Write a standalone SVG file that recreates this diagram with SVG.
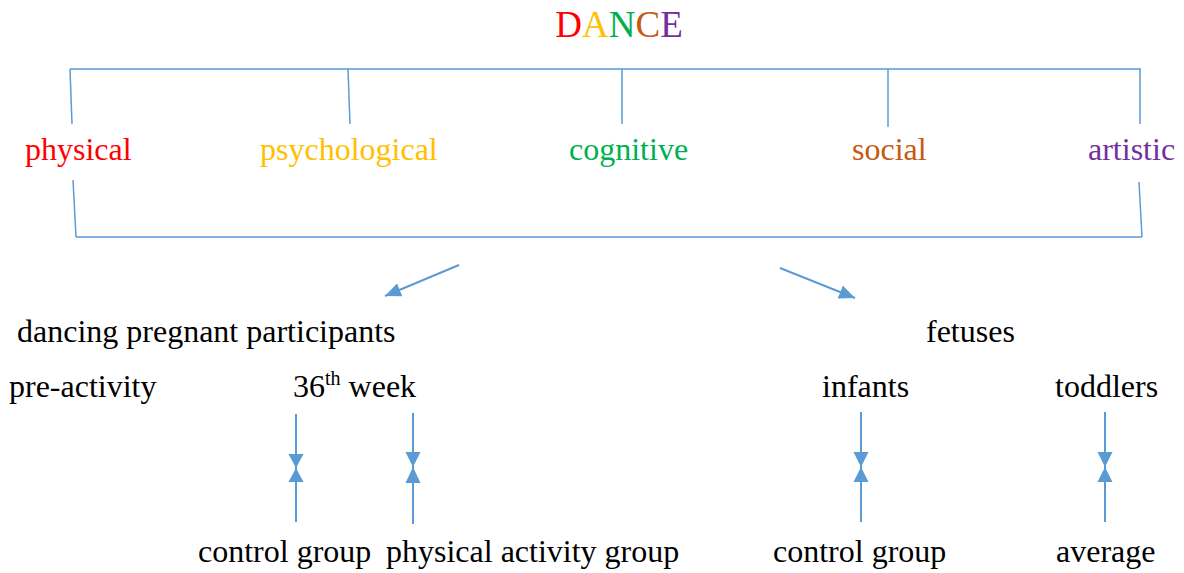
<svg xmlns="http://www.w3.org/2000/svg" width="1184" height="573" viewBox="0 0 1184 573">
<style>
text{font-family:"Liberation Serif","Times New Roman",serif;font-size:32px;fill:#000}
.br{stroke:#5B9BD5;stroke-width:1.5;fill:none}
.ar{stroke:#5B9BD5;stroke-width:2;fill:none}
.tri{fill:#5B9BD5}
</style>
<defs>
<marker id="ah" viewBox="0 0 10 10" refX="10" refY="5" markerWidth="8" markerHeight="7" orient="auto" markerUnits="strokeWidth" preserveAspectRatio="none"><path d="M0,0 L10,5 L0,10 z" class="tri"/></marker>
</defs>
<rect width="1184" height="573" fill="#fff"/>
<g id="title"><text x="619" y="37" text-anchor="middle" style="font-size:37px"><tspan fill="#FF0000">D</tspan><tspan fill="#FFC000">A</tspan><tspan fill="#00B050">N</tspan><tspan fill="#C55A11">C</tspan><tspan fill="#7030A0">E</tspan></text></g>
<g id="connectors">
<path class="br" d="M70,69 H1141 M70,69 L72,124 M348,69 L350,124 M622,69 V124 M888,69 V127 M1140,69 V124"/>
<path class="br" d="M76,237 H1142 M73,180 L76,237 M1139,182 L1142,237"/>
<path class="ar" d="M459,265 L385,296" marker-end="url(#ah)"/>
<path class="ar" d="M780,268 L855,298" marker-end="url(#ah)"/>
<g id="pair1"><path class="ar" d="M296,414 V522"/><path class="tri" d="M288.5,454 H303.5 L296,468 Z M288.5,482 H303.5 L296,468 Z"/></g>
<g id="pair2"><path class="ar" d="M413,413 V524"/><path class="tri" d="M405.5,452 H420.5 L413,467 Z M405.5,483 H420.5 L413,467 Z"/></g>
<g id="pair3"><path class="ar" d="M861,412 V522"/><path class="tri" d="M853.5,452 H868.5 L861,467 Z M853.5,482 H868.5 L861,467 Z"/></g>
<g id="pair4"><path class="ar" d="M1105,412 V522"/><path class="tri" d="M1097.5,452 H1112.5 L1105,467 Z M1097.5,482 H1112.5 L1105,467 Z"/></g>
</g>
<g id="physical"><text x="25" y="160" style="fill:#FF0000">physical</text></g>
<g id="psychological"><text x="260" y="160" style="fill:#FFC000">psychological</text></g>
<g id="cognitive"><text x="569" y="160" style="fill:#00B050">cognitive</text></g>
<g id="social"><text x="852" y="160" style="fill:#C55A11">social</text></g>
<g id="artistic"><text x="1088" y="160" style="fill:#7030A0">artistic</text></g>
<g id="dancing"><text x="17" y="342">dancing pregnant participants</text></g>
<g id="fetuses"><text x="926" y="342">fetuses</text></g>
<g id="preactivity"><text x="9" y="397">pre-activity</text></g>
<g id="week36"><text x="293" y="397">36<tspan dy="-12" style="font-size:20px">th</tspan><tspan dy="12"> week</tspan></text></g>
<g id="infants"><text x="822" y="397">infants</text></g>
<g id="toddlers"><text x="1055" y="397">toddlers</text></g>
<g id="control1"><text x="198" y="562">control group</text></g>
<g id="physgroup"><text x="386" y="562">physical activity group</text></g>
<g id="control2"><text x="773" y="562">control group</text></g>
<g id="average"><text x="1056" y="562">average</text></g>
</svg>
